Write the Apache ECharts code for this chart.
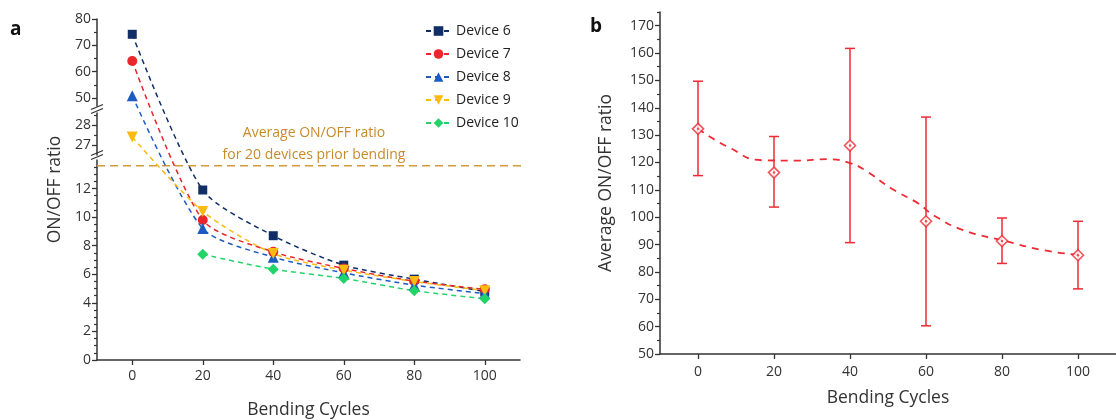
<!DOCTYPE html>
<html>
<head>
<meta charset="utf-8">
<script src="https://cdn.jsdelivr.net/npm/echarts@6/dist/echarts.min.js"></script>
<style>
    html, body {margin: 0; padding: 0; background: #fff;}
    #chart {width: 1116px; height: 420px;}
</style>
</head>
<body>
<div id="chart"></div>
<script>
// panel a: ON/OFF ratio of each device vs bending cycles
var cycles = [0, 20, 40, 60, 80, 100];
var dev6 = [74.2, 11.9, 8.7, 6.64, 5.66, 4.8];
var dev7 = [64.1, 9.8, 7.57, 6.41, 5.52, 4.95];
var dev8 = [50.9, 9.2, 7.2, 6.1, 5.24, 4.65];
var dev9 = [27.4, 10.4, 7.45, 6.29, 5.5, 4.85];
var dev10 = [null, 7.4, 6.36, 5.71, 4.85, 4.29];
var avgBefore = 13.6;

// panel b: average ratio with error bars
var meanRatio = [132.3, 116.3, 126.2, 98.5, 91.3, 86.1];
var errHigh = [149.7, 129.5, 161.7, 136.6, 99.7, 98.5];
var errLow = [115.2, 103.7, 90.7, 60.3, 83.1, 73.8];
var trendX = [0, 8, 17, 26, 34, 40, 44, 51, 58, 62, 70, 80, 91, 100];
var trendY = [132.3, 125.6, 120.8, 120.7, 121.2, 119.8, 117.1, 110.4, 105, 100.7, 95.2, 91.6, 87.9, 86.3];

// tick labels
var xTicks = [0, 20, 40, 60, 80, 100];
var aTopTicks = [50, 60, 70, 80];
var aTopMinor = [55, 65, 75];
var aMidTicks = [27, 28];
var aMidMinor = [27.5, 28.5];
var aLowTicks = [0, 2, 4, 6, 8, 10, 12];
var aLowMinor = [0.5, 1, 1.5, 2.5, 3, 3.5, 4.5, 5, 5.5, 6.5, 7, 7.5, 8.5, 9, 9.5, 10.5, 11, 11.5, 12.5, 13, 13.5];
var bTicks = [50, 60, 70, 80, 90, 100, 110, 120, 130, 140, 150, 160, 170];
var bMinor = [55, 65, 75, 85, 95, 105, 115, 125, 135, 145, 155, 165, 175];

var FONT = 'Open Sans';
var AXC = '#333';
var RED = '#ee2a33';

// broken axis segments of panel a (value range -> pixel top/bottom)
var segs = [
    {min: 0, max: 14, top: 160, bottom: 360},
    {min: 26.5, max: 28.6, top: 113, bottom: 155},
    {min: 47, max: 80, top: 19, bottom: 106}
];
var aLeft = 97, aRight = 596;
var baseY = 360, topY = 19;

// map a real value onto the overlay axis (pixels above the x axis)
function tf(v) {
    for (var i = 0; i < segs.length; i++) {
        var s = segs[i];
        if (v <= s.max || i == segs.length - 1) {
            var py = s.bottom - (v - s.min) / (s.max - s.min) * (s.bottom - s.top);
            return baseY - py;
        }
    }
}
function pts(arr) {
    var out = [];
    for (var i = 0; i < arr.length; i++) {
        if (arr[i] != null) out.push([cycles[i], tf(arr[i])]);
    }
    return out;
}

function segGrid(s) {
    return {left: aLeft, right: aRight, top: s.top, height: s.bottom - s.top};
}
function hiddenX(idx) {
    return {type: 'value', gridIndex: idx, min: -10, max: 110, show: false};
}
function mainY(idx, s, ticks) {
    return {
        type: 'value', gridIndex: idx, min: s.min, max: s.max, position: 'left',
        splitLine: {show: false},
        axisLine: {show: true, onZero: false, lineStyle: {color: AXC, width: 1.5}},
        axisTick: {show: true, length: 5, customValues: ticks, lineStyle: {color: AXC, width: 1.3}},
        axisLabel: {customValues: ticks, color: AXC, fontFamily: FONT, fontSize: 14, margin: 6}
    };
}
function minorY(idx, s, ticks) {
    return {
        type: 'value', gridIndex: idx, min: s.min, max: s.max, position: 'left', offset: 0,
        splitLine: {show: false},
        axisLine: {show: false, onZero: false},
        axisTick: {show: true, length: 3, customValues: ticks, lineStyle: {color: AXC, width: 1.2}},
        axisLabel: {show: false}
    };
}

function devSeries(name, data, color, symbol, size) {
    return {
        name: name, type: 'line', xAxisIndex: 3, yAxisIndex: 6,
        data: pts(data), smooth: 0.25,
        symbol: symbol, symbolSize: size,
        itemStyle: {color: color},
        lineStyle: {color: color, width: 1.5, type: [5, 4]},
        z: 3
    };
}

function renderErr(params, api) {
    var x = api.value(0);
    var p1 = api.coord([x, api.value(2)]);
    var p2 = api.coord([x, api.value(1)]);
    var w = 5;
    var st = {stroke: RED, lineWidth: 1.5};
    return {
        type: 'group',
        children: [
            {type: 'line', shape: {x1: p1[0], y1: p1[1], x2: p2[0], y2: p2[1]}, style: st},
            {type: 'line', shape: {x1: p1[0] - w, y1: p1[1], x2: p1[0] + w, y2: p1[1]}, style: st},
            {type: 'line', shape: {x1: p2[0] - w, y1: p2[1], x2: p2[0] + w, y2: p2[1]}, style: st}
        ]
    };
}

var errData = [], meanData = [], trendData = [];
for (var i = 0; i < cycles.length; i++) {
    errData.push([cycles[i], errLow[i], errHigh[i]]);
    meanData.push([cycles[i], meanRatio[i]]);
}
for (var j = 0; j < trendX.length; j++) {
    trendData.push([trendX[j], trendY[j]]);
}

function breakMark(y) {
    return {
        type: 'group',
        children: [
            {type: 'line', shape: {x1: 91, y1: y + 2.5, x2: 103, y2: y - 2.5}, style: {stroke: AXC, lineWidth: 1.3}},
            {type: 'line', shape: {x1: 91, y1: y + 6.5, x2: 103, y2: y + 1.5}, style: {stroke: AXC, lineWidth: 1.3}}
        ]
    };
}

var chart = echarts.init(document.getElementById('chart'));
var option = {
    animation: false,
    textStyle: {fontFamily: FONT},
    grid: [
        segGrid(segs[2]),
        segGrid(segs[1]),
        segGrid(segs[0]),
        {left: aLeft, right: aRight, top: topY, height: baseY - topY},
        {left: 660, right: -10, top: 12, bottom: 66}
    ],
    xAxis: [
        hiddenX(0),
        hiddenX(1),
        {
            type: 'value', gridIndex: 2, min: -10, max: 110,
            splitLine: {show: false},
            axisLine: {onZero: false, lineStyle: {color: AXC, width: 1.5}},
            axisTick: {length: 5, customValues: xTicks, lineStyle: {color: AXC, width: 1.3}},
            axisLabel: {customValues: xTicks, color: AXC, fontFamily: FONT, fontSize: 14, margin: 9},
            name: 'Bending Cycles', nameLocation: 'middle', nameGap: 41,
            nameTextStyle: {color: AXC, fontFamily: FONT, fontSize: 17.5}
        },
        hiddenX(3),
        {
            type: 'value', gridIndex: 4, min: -10, max: 110,
            splitLine: {show: false},
            axisLine: {onZero: false, lineStyle: {color: AXC, width: 1.5}},
            axisTick: {length: 5, customValues: xTicks, lineStyle: {color: AXC, width: 1.3}},
            axisLabel: {customValues: xTicks, color: AXC, fontFamily: FONT, fontSize: 14, margin: 11},
            name: 'Bending Cycles', nameLocation: 'middle', nameGap: 35,
            nameTextStyle: {color: AXC, fontFamily: FONT, fontSize: 17.5}
        }
    ],
    yAxis: [
        mainY(0, segs[2], aTopTicks),
        minorY(0, segs[2], aTopMinor),
        mainY(1, segs[1], aMidTicks),
        minorY(1, segs[1], aMidMinor),
        mainY(2, segs[0], aLowTicks),
        minorY(2, segs[0], aLowMinor),
        {
            type: 'value', gridIndex: 3, min: 0, max: baseY - topY, position: 'left',
            splitLine: {show: false}, axisLine: {show: false, onZero: false},
            axisTick: {show: false}, axisLabel: {show: false},
            name: 'ON/OFF ratio', nameLocation: 'middle', nameGap: 33,
            nameTextStyle: {color: AXC, fontFamily: FONT, fontSize: 17.5}
        },
        {
            type: 'value', gridIndex: 4, min: 50, max: 175, position: 'left',
            splitLine: {show: false},
            axisLine: {show: true, onZero: false, lineStyle: {color: AXC, width: 1.5}},
            axisTick: {show: true, length: 5, customValues: bTicks, lineStyle: {color: AXC, width: 1.3}},
            axisLabel: {customValues: bTicks, color: AXC, fontFamily: FONT, fontSize: 14, margin: 6},
            name: 'Average ON/OFF ratio', nameLocation: 'middle', nameGap: 45,
            nameTextStyle: {color: AXC, fontFamily: FONT, fontSize: 17.5}
        },
        minorY(4, {min: 50, max: 175}, bMinor)
    ],
    legend: {
        orient: 'vertical', left: 420, top: 19,
        itemWidth: 25, itemHeight: 12, itemGap: 9,
        textStyle: {color: '#222', fontFamily: FONT, fontSize: 14},
        data: ['Device 6', 'Device 7', 'Device 8', 'Device 9', 'Device 10']
    },
    graphic: [
        {type: 'text', left: 10, top: 20, style: {text: 'a', font: 'bold 19px ' + FONT, fill: '#111'}},
        {type: 'text', left: 590, top: 17, style: {text: 'b', font: 'bold 19px ' + FONT, fill: '#111'}},
        {type: 'text', x: 314, y: 133, style: {text: 'Average ON/OFF ratio', font: '14px ' + FONT, fill: '#c98a2b', align: 'center', verticalAlign: 'middle'}},
        {type: 'text', x: 314, y: 155, style: {text: 'for 20 devices prior bending', font: '14px ' + FONT, fill: '#c98a2b', align: 'center', verticalAlign: 'middle'}},
        breakMark(107),
        breakMark(153)
    ],
    series: [
        {
            name: 'avg', type: 'line', xAxisIndex: 2, yAxisIndex: 4,
            data: [[-10, avgBefore], [111.5, avgBefore]], symbol: 'none',
            lineStyle: {color: '#d49a3a', width: 1.6, type: [8, 5]}, z: 1
        },
        devSeries('Device 6', dev6, '#112f66', 'rect', 9),
        devSeries('Device 7', dev7, '#e8262c', 'circle', 10),
        devSeries('Device 8', dev8, '#1c5cc0', 'triangle', 11),
        devSeries('Device 9', dev9, '#fdba12', 'path://M0,0 L10,0 L5,9 Z', 11),
        devSeries('Device 10', dev10, '#22d467', 'diamond', 11),
        {
            name: 'trend', type: 'line', xAxisIndex: 4, yAxisIndex: 7,
            data: trendData, smooth: 0.5, symbol: 'none',
            lineStyle: {color: RED, width: 1.8, type: [7, 6]}, z: 2
        },
        {
            name: 'err', type: 'custom', xAxisIndex: 4, yAxisIndex: 7,
            data: errData, renderItem: renderErr, z: 3
        },
        {
            name: 'mean', type: 'scatter', xAxisIndex: 4, yAxisIndex: 7,
            data: meanData, symbol: 'diamond', symbolSize: 11,
            itemStyle: {color: '#fff', borderColor: RED, borderWidth: 1.6}, z: 4
        },
        {
            name: 'meanDot', type: 'scatter', xAxisIndex: 4, yAxisIndex: 7,
            data: meanData, symbol: 'circle', symbolSize: 2.5,
            itemStyle: {color: RED}, z: 5
        }
    ]
};
chart.setOption(option);
</script>
</body>
</html>
